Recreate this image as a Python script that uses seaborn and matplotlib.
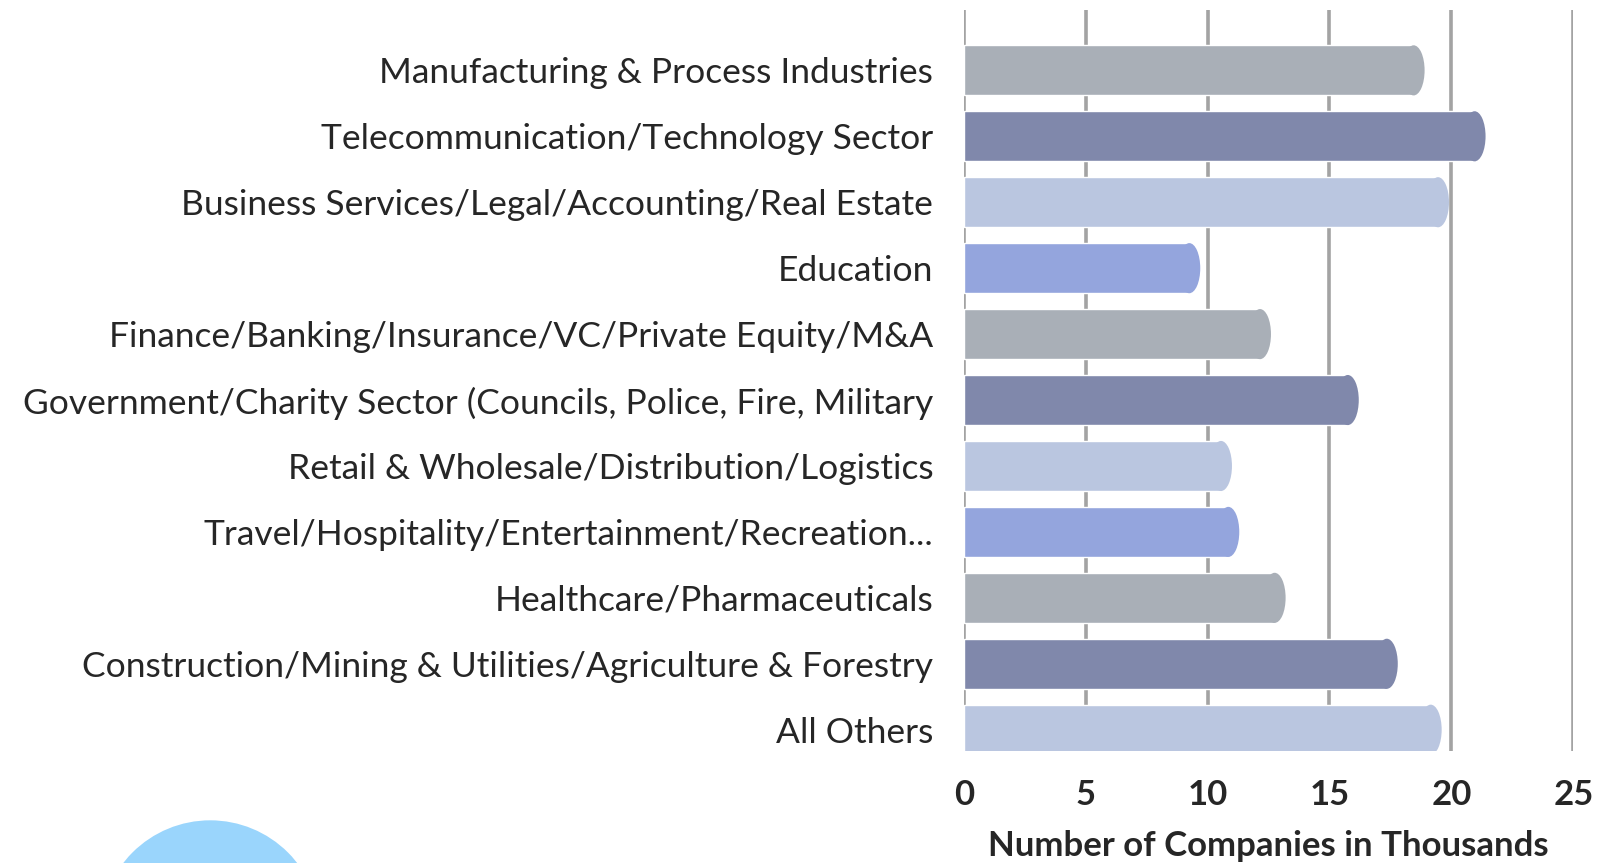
import pandas as pd
import seaborn as sns
import matplotlib.pyplot as plt
from matplotlib.patches import Ellipse

# data
sectors = [
    "Manufacturing & Process Industries",
    "Telecommunication/Technology Sector",
    "Business Services/Legal/Accounting/Real Estate",
    "Education",
    "Finance/Banking/Insurance/VC/Private Equity/M&A",
    "Government/Charity Sector (Councils, Police, Fire, Military",
    "Retail & Wholesale/Distribution/Logistics",
    "Travel/Hospitality/Entertainment/Recreation...",
    "Healthcare/Pharmaceuticals",
    "Construction/Mining & Utilities/Agriculture & Forestry",
    "All Others",
]
companies = [18.9, 21.4, 19.9, 9.7, 12.6, 16.2, 11.0, 11.3, 13.2, 17.8, 19.6]
bar_colors = ["#A9AFB7", "#8088AB", "#BAC6E0", "#94A5DD",
              "#A9AFB7", "#8088AB", "#BAC6E0", "#94A5DD",
              "#A9AFB7", "#8088AB", "#BAC6E0"]
xticks = [0, 5, 10, 15, 20, 25]

df = pd.DataFrame({"sector": sectors, "companies": companies})

sns.set_style("white")
plt.rcParams["font.family"] = ["Lato", "DejaVu Sans"]

fig = plt.figure(figsize=(16.17, 8.63), dpi=100)
ax = fig.add_axes([0.596, 0.130, 0.377, 0.858])

sns.barplot(data=df, x="companies", y="sector", hue="sector",
            palette=bar_colors, legend=False, width=0.76,
            saturation=1, ax=ax)

# rounded (cylinder-like) caps on the bar ends
cap = 0.9
for bar, col in zip(ax.patches[:len(companies)], bar_colors):
    w = bar.get_width()
    bar.set_width(w - cap / 2)
    cy = bar.get_y() + bar.get_height() / 2
    ax.add_patch(Ellipse((w - cap / 2, cy), cap, bar.get_height(),
                         color=col, lw=0, zorder=bar.get_zorder()))

ax.set_xlim(0, 25)
ax.set_ylim(10.32, -0.91)
ax.set_xticks(xticks)
ax.set_xticklabels([str(t) for t in xticks], fontsize=25, fontweight="bold")
ax.tick_params(axis="x", length=0, pad=20)
ax.tick_params(axis="y", length=0, pad=22, labelsize=25.5)
ax.set_xlabel("Number of Companies in Thousands", fontsize=25,
              fontweight="bold", labelpad=14)
ax.set_ylabel("")

ax.grid(axis="x", color="#A3A3A3", lw=2.6)
ax.grid(axis="y", visible=False)
ax.set_axisbelow(True)
for s in ax.spines.values():
    s.set_visible(False)

# decorative blue circle bottom left
fig.patches.append(Ellipse((0.130, -0.078), 220 / 1617, 220 / 863,
                           transform=fig.transFigure, color="#9AD5FC",
                           lw=0, figure=fig))

fig.savefig("out.png", dpi=100)
